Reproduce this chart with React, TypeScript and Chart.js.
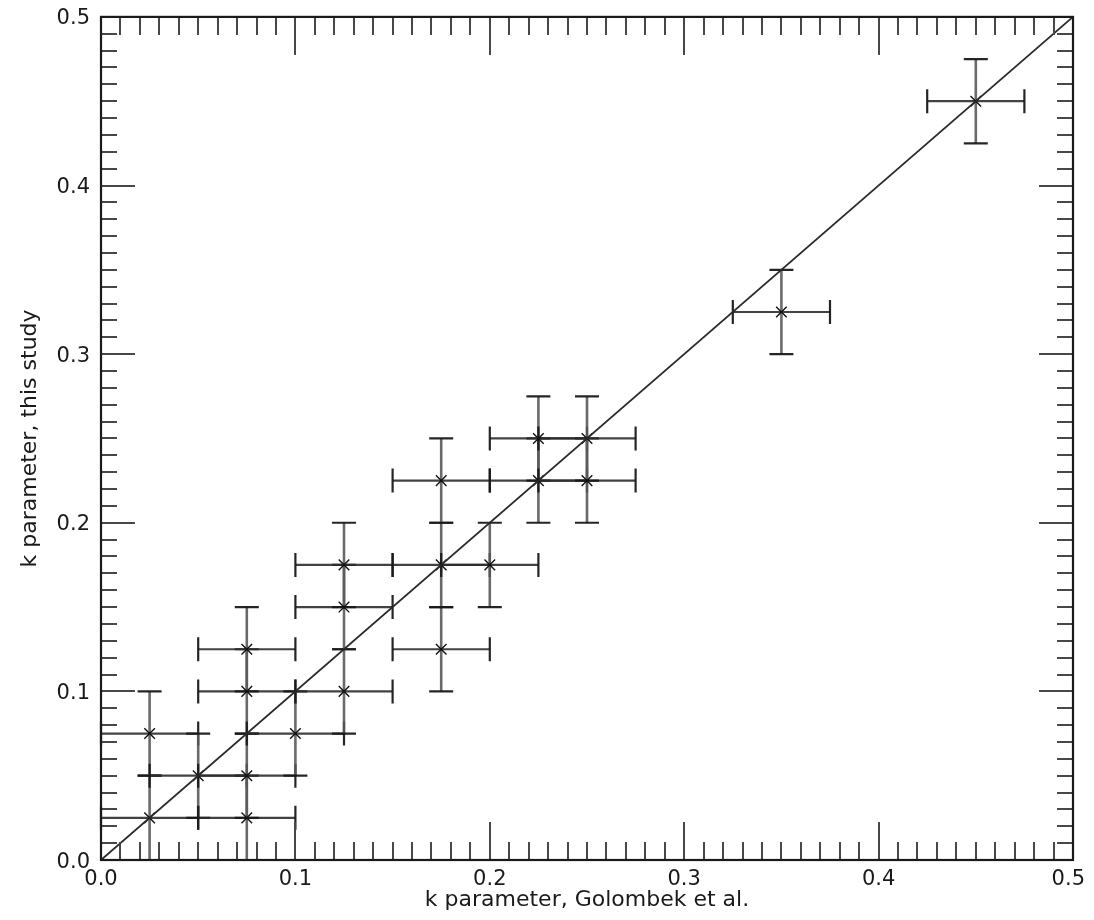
import React, { useEffect, useRef } from "react";
import { Chart, registerables } from "chart.js";

Chart.register(...registerables);

// k parameter from Golombek et al. (x) and from this study (y)
const kGolombek = [0.025, 0.025, 0.05, 0.075, 0.075, 0.075, 0.075, 0.1, 0.125, 0.125, 0.125, 0.175, 0.175, 0.175, 0.2, 0.225, 0.225, 0.25, 0.25, 0.35, 0.45];
const kThisStudy = [0.025, 0.075, 0.05, 0.025, 0.05, 0.1, 0.125, 0.075, 0.1, 0.15, 0.175, 0.125, 0.175, 0.225, 0.175, 0.225, 0.25, 0.225, 0.25, 0.325, 0.45];
const errGolombek = [0.025, 0.025, 0.025, 0.025, 0.025, 0.025, 0.025, 0.025, 0.025, 0.025, 0.025, 0.025, 0.025, 0.025, 0.025, 0.025, 0.025, 0.025, 0.025, 0.025, 0.025];
const errThisStudy = [0.025, 0.025, 0.025, 0.025, 0.025, 0.025, 0.025, 0.025, 0.025, 0.025, 0.025, 0.025, 0.025, 0.025, 0.025, 0.025, 0.025, 0.025, 0.025, 0.025, 0.025];

// one-to-one reference line
const oneToOneX = [0, 0.5];
const oneToOneY = [0, 0.5];

// axes
const AXIS_MIN = 0;
const AXIS_MAX = 0.5;
const majorTickValues = [0, 0.1, 0.2, 0.3, 0.4, 0.5];
const majorTickLabels = ["0.0", "0.1", "0.2", "0.3", "0.4", "0.5"];
const MINOR_STEP = 0.01;
const X_TITLE = "k parameter, Golombek et al.";
const Y_TITLE = "k parameter, this study";

const FONT = "'DejaVu Sans', 'Liberation Sans', sans-serif";

const errorBarPlugin = {
  id: "errorBars",
  beforeDatasetsDraw(chart: any) {
    const { ctx, scales } = chart;
    const xs = scales.x;
    const ys = scales.y;
    const cap = 12;
    ctx.save();
    ctx.lineCap = "butt";
    for (let i = 0; i < kGolombek.length; i++) {
      const x0 = xs.getPixelForValue(kGolombek[i] - errGolombek[i]);
      const x1 = xs.getPixelForValue(kGolombek[i] + errGolombek[i]);
      const xc = xs.getPixelForValue(kGolombek[i]);
      const y0 = ys.getPixelForValue(kThisStudy[i] - errThisStudy[i]);
      const y1 = ys.getPixelForValue(kThisStudy[i] + errThisStudy[i]);
      const yc = ys.getPixelForValue(kThisStudy[i]);
      // vertical stem
      ctx.strokeStyle = "rgba(90,90,90,0.9)";
      ctx.lineWidth = 2.6;
      ctx.beginPath();
      ctx.moveTo(xc, y0);
      ctx.lineTo(xc, y1);
      ctx.stroke();
      // horizontal stem
      ctx.strokeStyle = "rgba(45,45,45,0.9)";
      ctx.lineWidth = 2.2;
      ctx.beginPath();
      ctx.moveTo(x0, yc);
      ctx.lineTo(x1, yc);
      ctx.stroke();
      // caps
      ctx.strokeStyle = "rgba(25,25,25,0.95)";
      ctx.lineWidth = 2.2;
      ctx.beginPath();
      ctx.moveTo(xc - cap, y0);
      ctx.lineTo(xc + cap, y0);
      ctx.moveTo(xc - cap, y1);
      ctx.lineTo(xc + cap, y1);
      ctx.moveTo(x0, yc - cap);
      ctx.lineTo(x0, yc + cap);
      ctx.moveTo(x1, yc - cap);
      ctx.lineTo(x1, yc + cap);
      ctx.stroke();
    }
    ctx.restore();
  },
};

const framePlugin = {
  id: "frameTicks",
  afterDatasetsDraw(chart: any) {
    const { ctx, chartArea, scales } = chart;
    const xs = scales.x;
    const ys = scales.y;
    const { left, right, top, bottom } = chartArea;
    ctx.save();
    // inward ticks on all four sides
    ctx.strokeStyle = "#484848";
    ctx.lineWidth = 2;
    ctx.beginPath();
    const nMinor = Math.round((AXIS_MAX - AXIS_MIN) / MINOR_STEP);
    for (let i = 1; i < nMinor; i++) {
      const v = AXIS_MIN + i * MINOR_STEP;
      const isMajor = i % 10 === 0;
      const lx = isMajor ? 38 : 18;
      const ly = isMajor ? 34 : 16;
      const px = Math.round(xs.getPixelForValue(v));
      const py = Math.round(ys.getPixelForValue(v));
      ctx.moveTo(px, bottom);
      ctx.lineTo(px, bottom - lx);
      ctx.moveTo(px, top);
      ctx.lineTo(px, top + lx);
      ctx.moveTo(left, py);
      ctx.lineTo(left + ly, py);
      ctx.moveTo(right, py);
      ctx.lineTo(right - ly, py);
    }
    ctx.stroke();
    // frame
    ctx.strokeStyle = "#1a1a1a";
    ctx.lineWidth = 2.2;
    ctx.strokeRect(left, top, right - left, bottom - top);
    // tick labels
    ctx.fillStyle = "#1a1a1a";
    ctx.font = `21px ${FONT}`;
    ctx.textBaseline = "alphabetic";
    for (let i = 0; i < majorTickValues.length; i++) {
      const px = xs.getPixelForValue(majorTickValues[i]);
      const label = majorTickLabels[i];
      const halfW = ctx.measureText(label).width / 2;
      ctx.textAlign = "center";
      ctx.fillText(label, Math.min(px, right + 12 - halfW), bottom + 25);
      const py = ys.getPixelForValue(majorTickValues[i]);
      ctx.textAlign = "right";
      ctx.fillText(label, left - 11, py + 7.5);
    }
    ctx.restore();
  },
};

export default function App() {
  const canvasRef = useRef<HTMLCanvasElement | null>(null);

  useEffect(() => {
    if (!canvasRef.current) return;
    const chart = new Chart(canvasRef.current, {
      type: "scatter",
      data: {
        datasets: [
          {
            label: "1:1",
            data: oneToOneX.map((x, i) => ({ x, y: oneToOneY[i] })),
            showLine: true,
            borderColor: "#2a2a2a",
            borderWidth: 1.8,
            pointRadius: 0,
            fill: false,
          },
          {
            label: "k parameter",
            data: kGolombek.map((x, i) => ({ x, y: kThisStudy[i] })),
            pointStyle: "crossRot",
            pointRadius: 7.5,
            pointBorderWidth: 1.4,
            borderColor: "#111",
            backgroundColor: "#111",
          },
        ],
      },
      options: {
        animation: false,
        responsive: true,
        maintainAspectRatio: false,
        layout: { padding: { top: 8.5, right: 21, left: 0, bottom: 0 } },
        plugins: { legend: { display: false }, tooltip: { enabled: false } },
        scales: {
          x: {
            type: "linear",
            min: AXIS_MIN,
            max: AXIS_MAX,
            grid: { display: false },
            border: { display: false },
            ticks: { display: false },
            title: {
              display: true,
              text: X_TITLE,
              color: "#1a1a1a",
              font: { family: FONT, size: 22, lineHeight: 1 },
              padding: { top: 0, bottom: 7 },
            },
            afterFit(scale: any) {
              scale.height = 58;
            },
          },
          y: {
            type: "linear",
            min: AXIS_MIN,
            max: AXIS_MAX,
            grid: { display: false },
            border: { display: false },
            ticks: { display: false },
            title: {
              display: true,
              text: Y_TITLE,
              color: "#1a1a1a",
              font: { family: FONT, size: 22, lineHeight: 1.2 },
              padding: { top: 9, bottom: 0 },
            },
            afterFit(scale: any) {
              scale.width = 93;
            },
          },
        },
      },
      plugins: [errorBarPlugin, framePlugin],
    } as any);
    return () => chart.destroy();
  }, []);

  return (
    <div style={{ position: "relative", width: 1086, height: 910, marginBottom: -8, marginRight: -8 }}>
      <canvas ref={canvasRef} />
    </div>
  );
}
